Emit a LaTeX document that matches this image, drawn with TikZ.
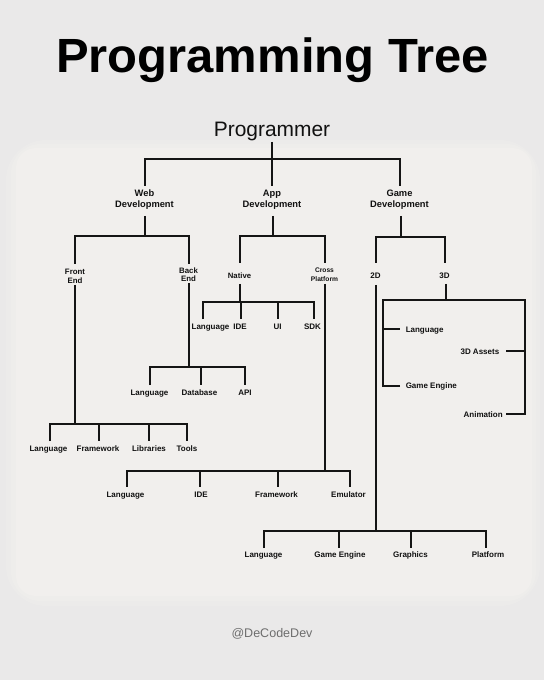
\documentclass[tikz,border=0pt]{standalone}
\usepackage{fontspec}
\usepackage{graphicx}
\setmainfont{Liberation Sans}
\definecolor{bg}{HTML}{EAE9E9}
\definecolor{bgone}{HTML}{ECEBEA}
\definecolor{bgmid}{HTML}{EEEDEB}
\definecolor{bgtwo}{HTML}{F1EFED}
\definecolor{linec}{HTML}{151515}
\definecolor{txt}{HTML}{111111}
\definecolor{wm}{HTML}{6E6E6E}
\begin{document}
\begin{tikzpicture}[x=0.75pt,y=-0.75pt,
  ln/.style={draw=linec, line width=1.5pt},
  lbl/.style={font=\fontsize{6}{7.2}\selectfont\bfseries, text=txt, inner sep=0pt, anchor=base},
  lbltwo/.style={font=\fontsize{5.9}{6.3}\selectfont\bfseries, text=txt, inner sep=0pt, align=center},
  lblsmall/.style={font=\fontsize{5}{6.6}\selectfont\bfseries, text=txt, inner sep=0pt, align=center},
  toplbl/.style={font=\fontsize{7}{8}\selectfont\bfseries, text=txt, inner sep=0pt, align=center}]
\useasboundingbox (0,0) rectangle (544,680);
\fill[bg] (0,0) rectangle (544,680);
\fill[bgone, rounded corners=30pt] (6,140) rectangle (540,606);
\fill[bgmid, rounded corners=22pt] (11,144) rectangle (536,601);
\fill[bgtwo, rounded corners=15pt] (16,148) rectangle (532,596);

% title
\node[font=\fontsize{36}{40}\selectfont\bfseries, text=black, anchor=base, inner sep=0pt] (title) at (272.5,72.7) {\scalebox{1.02}[1]{Programming Tree}};
\node[font=\fontsize{15.7}{18}\selectfont, text=txt, anchor=base, inner sep=0pt] (prog) at (272,136.7) {Programmer};

% level 1
\coordinate (p0) at (272,142);
\coordinate (pb) at (272,159);
\coordinate (wt) at (144.7,159);
\coordinate (w1) at (144.7,186);
\coordinate (gt) at (399.5,159);
\coordinate (g1) at (399.5,186);
\coordinate (a1) at (272,186);
\draw[ln] (p0) -- (pb);
\draw[ln] (w1) -- (wt) -- (gt) -- (g1);
\draw[ln] (pb) -- (a1);
\node[toplbl] (web) at (144.5,199.5) {Web\\Development};
\node[toplbl] (app) at (272,199.5) {App\\Development};
\node[toplbl] (game) at (399.5,199.5) {Game\\Development};

% web
\coordinate (wb) at (145,216);
\coordinate (wj) at (145,236);
\coordinate (fe1) at (74.5,264);
\coordinate (fet) at (74.5,236);
\coordinate (bet) at (188.5,236);
\coordinate (be1) at (188.5,264);
\draw[ln] (wb) -- (wj);
\draw[ln] (fe1) -- (fet) -- (bet) -- (be1);
\node[lbltwo] (fe) at (75,276.5) {Front\\End};
\node[lbltwo] (be) at (188.5,274.5) {Back\\End};

% front end
\coordinate (feb) at (75,285);
\coordinate (fej) at (75,424);
\coordinate (f1) at (49.5,441);
\coordinate (f1t) at (49.5,424);
\coordinate (f2) at (99,441);
\coordinate (f2t) at (99,424);
\coordinate (f3) at (149,441);
\coordinate (f3t) at (149,424);
\coordinate (f4) at (187,441);
\coordinate (f4t) at (187,424);
\draw[ln] (feb) -- (fej);
\draw[ln] (f1) -- (f1t) -- (f4t) -- (f4);
\draw[ln] (f2t) -- (f2);
\draw[ln] (f3t) -- (f3);
\node[lbl] (fel) at (48.5,451) {Language};
\node[lbl] (fef) at (98,451) {Framework};
\node[lbl] (fei) at (149,451) {Libraries};
\node[lbl] (fet2) at (187,451) {Tools};

% back end
\coordinate (beb) at (188.5,283);
\coordinate (bej) at (188.5,367);
\coordinate (b1) at (150,385);
\coordinate (b1t) at (150,367);
\coordinate (b2) at (200.5,385);
\coordinate (b2t) at (200.5,367);
\coordinate (b3) at (245,385);
\coordinate (b3t) at (245,367);
\draw[ln] (beb) -- (bej);
\draw[ln] (b1) -- (b1t) -- (b3t) -- (b3);
\draw[ln] (b2t) -- (b2);
\node[lbl] (bel) at (149.5,395) {Language};
\node[lbl] (bed) at (199.5,395) {Database};
\node[lbl] (bea) at (245,395) {API};

% app
\coordinate (ab) at (272.5,216);
\coordinate (aj) at (272.5,236);
\coordinate (na1) at (239.5,263);
\coordinate (nat) at (239.5,236);
\coordinate (crt) at (324.5,236);
\coordinate (cr1) at (324.5,263);
\draw[ln] (ab) -- (aj);
\draw[ln] (na1) -- (nat) -- (crt) -- (cr1);
\node[lbl, font=\fontsize{5.8}{7}\selectfont\bfseries] (native) at (239.5,279) {Native};
\node[lblsmall] (cross) at (324.5,274.5) {Cross\\Platform};

% native
\coordinate (nb) at (239.5,284);
\coordinate (nj) at (239.5,302.5);
\coordinate (n1) at (202.5,319);
\coordinate (n1t) at (202.5,302.5);
\coordinate (n2) at (240.5,319);
\coordinate (n2t) at (240.5,302.5);
\coordinate (n3) at (277.5,319);
\coordinate (n3t) at (277.5,302.5);
\coordinate (n4) at (313.5,319);
\coordinate (n4t) at (313.5,302.5);
\draw[ln] (nb) -- (nj);
\draw[ln] (n1) -- (n1t) -- (n4t) -- (n4);
\draw[ln] (n2t) -- (n2);
\draw[ln] (n3t) -- (n3);
\node[lbl] (nl) at (210.5,329) {Language};
\node[lbl] (ni) at (240,329) {IDE};
\node[lbl] (nu) at (277.5,329) {UI};
\node[lbl] (ns) at (312.5,329) {SDK};

% cross platform
\coordinate (cb) at (325,284);
\coordinate (cj) at (325,470.5);
\coordinate (c1) at (126.5,486.5);
\coordinate (c1t) at (126.5,470.5);
\coordinate (c2) at (200,486.5);
\coordinate (c2t) at (200,470.5);
\coordinate (c3) at (277.5,486.5);
\coordinate (c3t) at (277.5,470.5);
\coordinate (c4) at (349.5,486.5);
\coordinate (c4t) at (349.5,470.5);
\draw[ln] (cb) -- (cj);
\draw[ln] (c1) -- (c1t) -- (c4t) -- (c4);
\draw[ln] (c2t) -- (c2);
\draw[ln] (c3t) -- (c3);
\node[lbl] (cl) at (125.5,497) {Language};
\node[lbl] (ci) at (201,497) {IDE};
\node[lbl] (cf) at (276.5,497) {Framework};
\node[lbl] (ce) at (348.5,497) {Emulator};

% game
\coordinate (gb) at (401,216);
\coordinate (gj) at (401,237);
\coordinate (d21) at (375.5,263);
\coordinate (d2t) at (375.5,237);
\coordinate (d3t) at (444.5,237);
\coordinate (d31) at (444.5,263);
\draw[ln] (gb) -- (gj);
\draw[ln] (d21) -- (d2t) -- (d3t) -- (d31);
\node[lbl] (twod) at (375.5,279) {2D};
\node[lbl] (threed) at (444.5,279) {3D};

% 2D
\coordinate (tdb) at (376,285);
\coordinate (tdj) at (376,530.5);
\coordinate (e1) at (263.5,548);
\coordinate (e1t) at (263.5,530.5);
\coordinate (e2) at (338.5,548);
\coordinate (e2t) at (338.5,530.5);
\coordinate (e3) at (411,548);
\coordinate (e3t) at (411,530.5);
\coordinate (e4) at (485.5,548);
\coordinate (e4t) at (485.5,530.5);
\draw[ln] (tdb) -- (tdj);
\draw[ln] (e1) -- (e1t) -- (e4t) -- (e4);
\draw[ln] (e2t) -- (e2);
\draw[ln] (e3t) -- (e3);
\node[lbl] (el) at (263.5,557) {Language};
\node[lbl] (eg) at (340,557) {Game Engine};
\node[lbl] (egr) at (410.5,557) {Graphics};
\node[lbl] (ep) at (488,557) {Platform};

% 3D
\coordinate (thb) at (445.5,284);
\coordinate (thj) at (445.5,300);
\coordinate (hl) at (382.5,300);
\coordinate (hr) at (524.5,300);
\coordinate (hgl) at (382.5,385.5);
\coordinate (hge) at (400,385.5);
\coordinate (hll) at (382.5,329);
\coordinate (hle) at (400,329);
\coordinate (hal) at (524.5,413.5);
\coordinate (hae) at (506,413.5);
\coordinate (hsl) at (524.5,351);
\coordinate (hse) at (506,351);
\draw[ln] (thb) -- (thj);
\draw[ln] (hge) -- (hgl) -- (hl) -- (hr) -- (hal) -- (hae);
\draw[ln] (hll) -- (hle);
\draw[ln] (hsl) -- (hse);
\node[lbl, anchor=base west] (hlang) at (405.5,332) {Language};
\node[lbl, anchor=base west] (hgame) at (405.5,388.5) {Game Engine};
\node[lbl, anchor=base east] (hasset) at (499.5,354) {3D Assets};
\node[lbl, anchor=base east] (hanim) at (503,417) {Animation};

% credit
\node[font=\fontsize{9.4}{11}\selectfont, text=wm, anchor=base, inner sep=0pt] (credit) at (272,637) {@DeCodeDev};
\end{tikzpicture}
\end{document}
